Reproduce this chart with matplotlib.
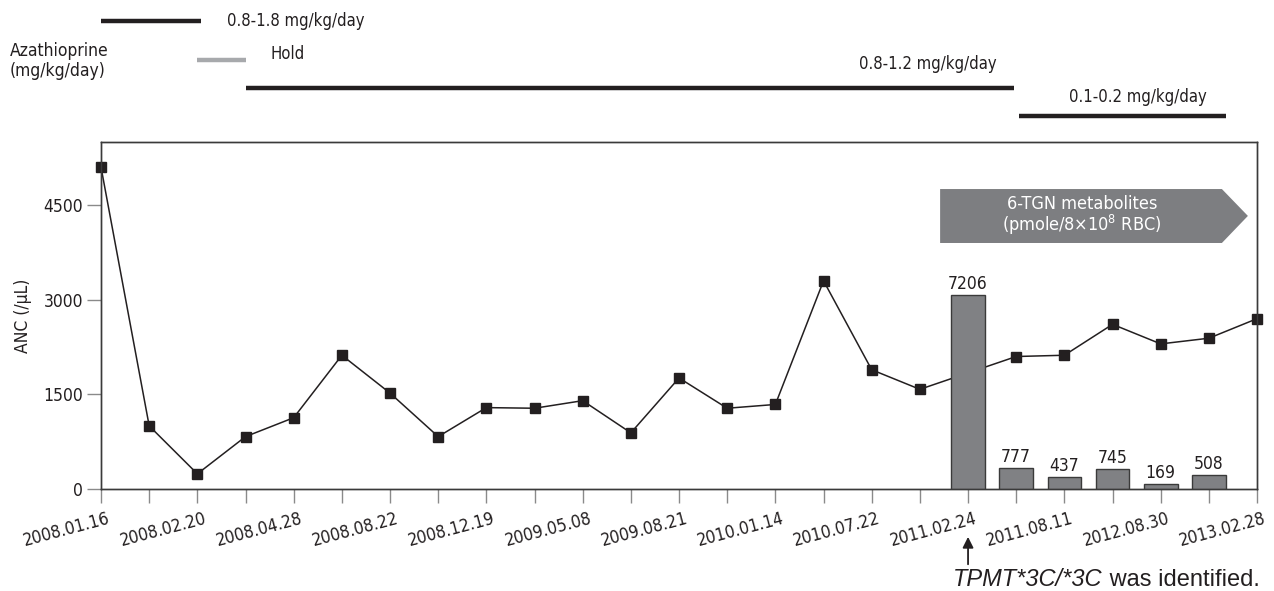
import matplotlib
matplotlib.use("Agg")
import matplotlib.pyplot as plt
import matplotlib.transforms as mtransforms
from matplotlib import font_manager as fm
from matplotlib.patches import Polygon

# the original uses a condensed grotesque; pick the narrowest installed match
names = {(f.name, f.stretch) for f in fm.fontManager.ttflist}
if any(n == "Liberation Sans Narrow" for n, _ in names):
    plt.rcParams["font.family"] = ["Liberation Sans Narrow", "DejaVu Sans"]
    FS = 13.5
elif ("DejaVu Sans", "condensed") in names:
    plt.rcParams["font.family"] = ["DejaVu Sans"]
    plt.rcParams["font.stretch"] = "condensed"
    FS = 12
else:
    plt.rcParams["font.family"] = ["Liberation Sans", "DejaVu Sans"]
    FS = 12

# ANC per visit (position = visit number on the x axis)
anc_pos = [0, 1, 2, 3, 4, 5, 6, 7, 8, 9, 10, 11, 12, 13, 14, 15, 16, 17,
           19, 20, 21, 22, 23, 24]
anc_vals = [5100, 1000, 240, 830, 1130, 2120, 1520, 830, 1290, 1280, 1400, 890,
            1760, 1280, 1340, 3300, 1890, 1580, 2100, 2120, 2610, 2300, 2390, 2700]

# 6-TGN metabolites (pmole/8x10^8 RBC)
tgn_pos = [18, 19, 20, 21, 22, 23]
tgn_vals = [7206, 777, 437, 745, 169, 508]

date_labels = ["2008.01.16", "2008.02.20", "2008.04.28", "2008.08.22", "2008.12.19",
               "2009.05.08", "2009.08.21", "2010.01.14", "2010.07.22", "2011.02.24",
               "2011.08.11", "2012.08.30", "2013.02.28"]
n_visits = 25

# azathioprine dose periods: (start, end, colour, label)
doses = [
    (0, 2.07, "#231f20", "0.8-1.8 mg/kg/day"),
    (2.0, 3.0, "#a7a9ac", "Hold"),
    (3.0, 18.95, "#231f20", "0.8-1.2 mg/kg/day"),
    (19.05, 23.35, "#231f20", "0.1-0.2 mg/kg/day"),
]

DARK = "#231f20"

fig = plt.figure(figsize=(12.74, 5.91), dpi=100)
ax = fig.add_axes([0.0793, 0.1726, 0.9074, 0.5871])
ax2 = ax.twinx()

ax.plot(anc_pos, anc_vals, color=DARK, lw=1.1, marker="s", ms=7.5,
        mfc=DARK, mec=DARK, clip_on=False, zorder=3)
ax.set_xlim(0, n_visits - 1)
ax.set_ylim(0, 5500)
ax.set_yticks([0, 1500, 3000, 4500])
ax.set_ylabel("ANC (/\u03bcL)", fontsize=FS + 0.5, labelpad=8, color=DARK)

bars = ax2.bar(tgn_pos, tgn_vals, width=0.7, color="#808184",
               edgecolor="#3a3a3a", linewidth=1.0, zorder=2)
for b, v in zip(bars, tgn_vals):
    ax2.annotate(str(v), (b.get_x() + b.get_width() / 2, v),
                 xytext=(0, 1.5), textcoords="offset points",
                 ha="center", va="bottom", fontsize=FS + 0.5, color=DARK)
ax2.set_ylim(0, 12900)
ax2.set_yticks([])

ticks = list(range(n_visits))
labels = []
for i in ticks:
    labels.append(date_labels[i // 2] if i % 2 == 0 else "")
ax.set_xticks(ticks)
ax.set_xticklabels(labels, rotation=15, ha="right", rotation_mode="anchor",
                   fontsize=FS + 0.5, color=DARK)
ax.tick_params(axis="both", direction="out", length=10, width=1.0,
               color="#8a8a8a", labelcolor=DARK)
ax.tick_params(axis="y", labelsize=FS + 0.5, pad=3)
ax.tick_params(axis="x", pad=5)
# nudge the slanted dates a few pixels right, like the original
shift = mtransforms.ScaledTranslation(6 / 100, 0, fig.dpi_scale_trans)
for lab in ax.get_xticklabels():
    lab.set_transform(lab.get_transform() + shift)
for a in (ax, ax2):
    for s in a.spines.values():
        s.set_color("#3a3a3a")
        s.set_linewidth(1.0)

# dose bars above the plot
trans = mtransforms.blended_transform_factory(ax.transData, ax.transAxes)
dose_y = [1.349, 1.236, 1.156, 1.075]
label_xy = [(2.62, 1.349, "left"), (3.51, 1.253, "left"),
            (18.6, 1.225, "right"), (21.53, 1.130, "center")]
for (x0, x1, col, lab), y, (tx, ty, ha) in zip(doses, dose_y, label_xy):
    ax.plot([x0, x1], [y, y], color=col, lw=3.2, transform=trans,
            clip_on=False, solid_capstyle="butt")
    ax.text(tx, ty, lab, transform=trans, ha=ha, va="center",
            fontsize=FS, color=DARK)
ax.text(-1.89, 1.233, "Azathioprine\n(mg/kg/day)", transform=trans,
        ha="left", va="center", fontsize=FS + 0.5, color=DARK,
        linespacing=1.15)

# grey arrow box for the 6-TGN label
box = Polygon([(17.42, 0.709), (23.27, 0.709), (23.81, 0.787),
               (23.27, 0.8645), (17.42, 0.8645)], closed=True,
              transform=trans, facecolor="#7d7e81", edgecolor="none",
              zorder=5)
ax2.add_patch(box)
ax2.text(20.37, 0.787, "6-TGN metabolites\n(pmole/8\u00d710$^{8}$ RBC)",
         transform=trans, ha="center", va="center", color="white",
         fontsize=FS + 1, linespacing=0.95, zorder=6)

# genotype note
ax.annotate("", xy=(18, -0.13), xytext=(18, -0.225), xycoords=trans,
            textcoords=trans,
            arrowprops=dict(arrowstyle="-|>", color=DARK, lw=1.3,
                            mutation_scale=16))
note_font = dict(family=["Liberation Sans", "DejaVu Sans"], stretch="normal",
                 size=17)
t1 = ax.text(17.69, -0.262, "TPMT*3C/*3C", transform=trans, ha="left",
             va="center", style="italic", color=DARK, fontdict=note_font)
ax.annotate(" was identified.", xy=(1, 0.5), xycoords=t1, ha="left",
            va="center", color=DARK, fontproperties=fm.FontProperties(**note_font))

fig.savefig("out.png", dpi=100)
